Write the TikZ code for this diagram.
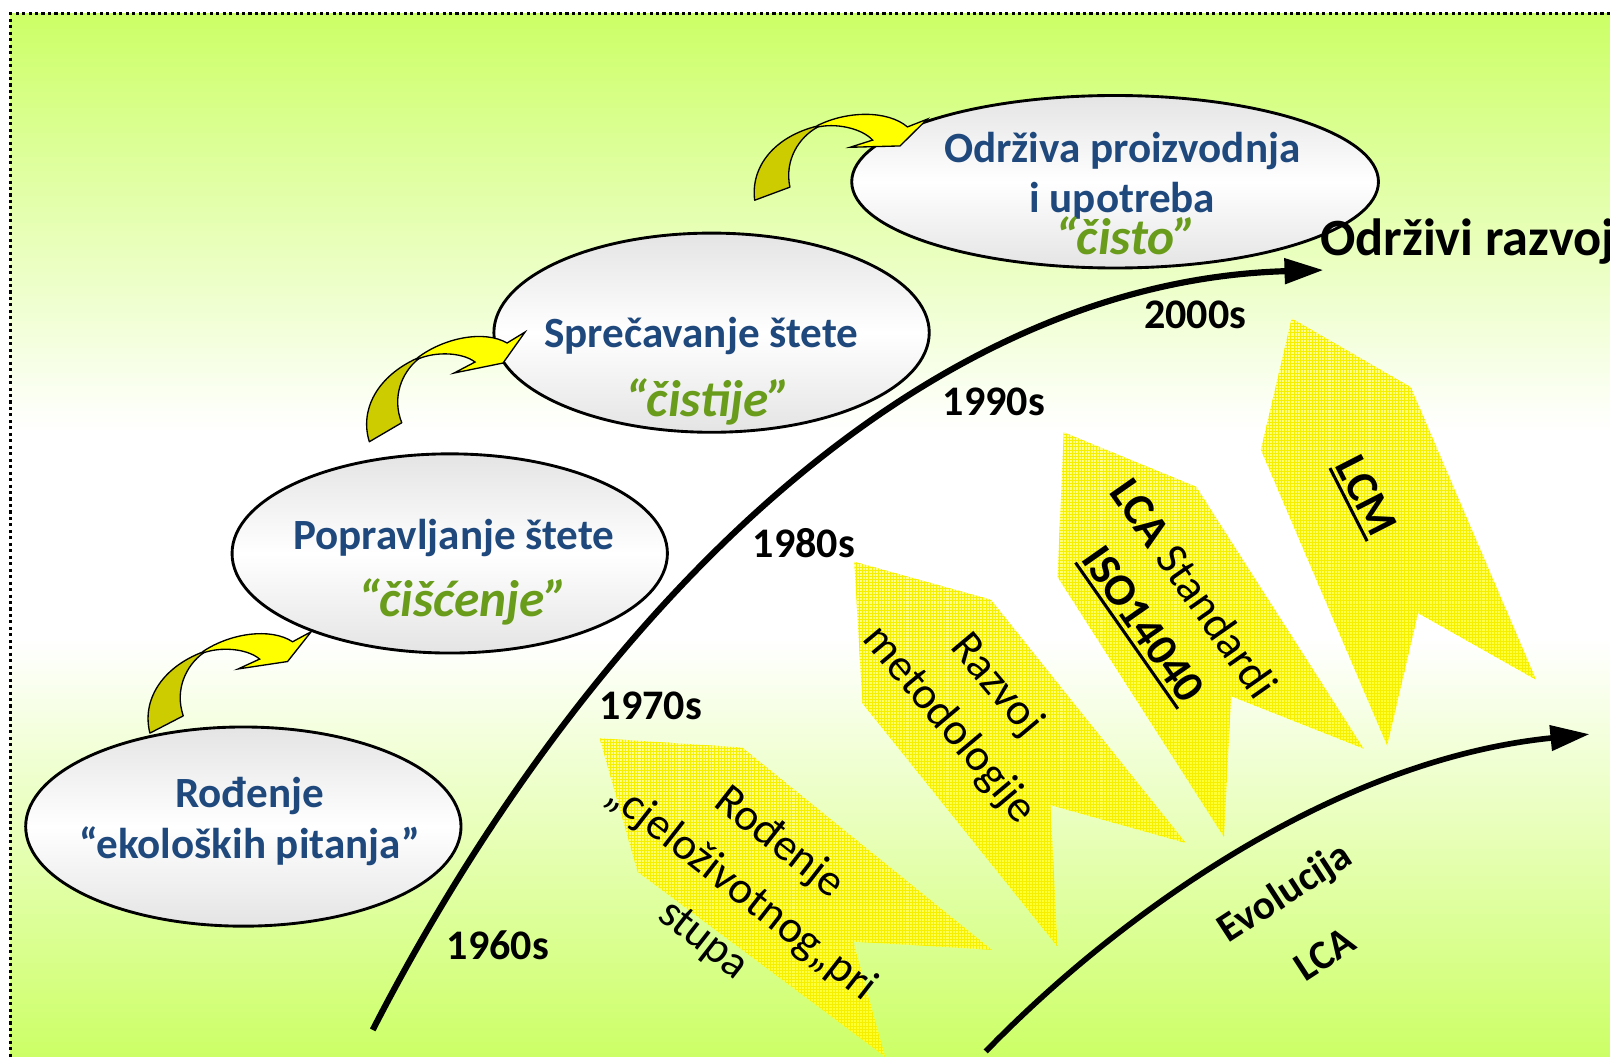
\documentclass[tikz,border=0pt]{standalone}
\usepackage{fontspec}
\setmainfont{Carlito}
\usetikzlibrary{arrows.meta,shapes.geometric,patterns}
\definecolor{bggreen}{HTML}{CCFF66}
\definecolor{txtblue}{HTML}{1F497D}
\definecolor{txtgreen}{HTML}{6A9C1C}
\definecolor{arrolive}{HTML}{CCCC00}
\definecolor{arryellow}{HTML}{FFFF00}
\definecolor{ellgray}{HTML}{E4E4E4}
\definecolor{yshlight}{HTML}{FFFF90}
\definecolor{yshdark}{HTML}{FFFF26}
\definecolor{ygrid}{HTML}{F6F000}
\pgfdeclareverticalshading{bgshade}{100bp}{color(0bp)=(bggreen); color(25bp)=(bggreen); color(45bp)=(white); color(55bp)=(white); color(75bp)=(bggreen); color(100bp)=(bggreen)}
\newsavebox{\ulsave}
\newcommand{\ulbox}[1]{\sbox{\ulsave}{#1}\rlap{\rule[-7pt]{\wd\ulsave}{3pt}}\usebox{\ulsave}}
\newcommand{\yarrow}[3]{%
\begin{scope}[shift={(#1,#2)}, rotate=#3, scale=0.974]
 \filldraw[fill=arrolive, draw=black, line width=1.3pt, line join=round]
   (0,0) .. controls (-10,-32) and (8,-66) .. (49,-84) -- (49,-82.7)
   .. controls (33,-70) and (22,-45) .. (32.4,-19) -- cycle;
 \filldraw[fill=arryellow, draw=black, line width=1.3pt, line join=miter]
   (48.7,-84.3) .. controls (75,-104) and (115,-112) .. (137.7,-98.7)
   -- (155.7,-109.7) -- (133.7,-78.7) -- (84.7,-68.7) -- (105.7,-79.7)
   .. controls (92,-90) and (65,-90) .. (48.7,-82.7) -- cycle;
\end{scope}}
\begin{document}
\begin{tikzpicture}[x=1pt,y=-1pt,
  ell/.style={ellipse, draw=black, line width=2.8pt, top color=ellgray, bottom color=ellgray, middle color=white, inner sep=0},
  bl/.style={font=\fontsize{42}{48}\selectfont\bfseries, text=txtblue, inner sep=0, text height=26pt, text depth=0pt},
  gr/.style={font=\fontsize{50}{56}\selectfont\bfseries\itshape, text=txtgreen, inner sep=0, text height=31pt, text depth=0pt},
  yr/.style={font=\fontsize{41}{48}\selectfont\bfseries, text=black, inner sep=0, text height=25pt, text depth=0pt},
  ytxt/.style={font=\fontsize{44}{60}\selectfont, text=black, align=center, inner sep=0},
  ysh/.style={top color=yshlight, bottom color=yshdark, postaction={pattern=grid, pattern color=ygrid}},
  curve/.style={draw=black, line cap=butt, -{Triangle[length=38pt,width=24pt]}}
]
\useasboundingbox (0,0) rectangle (1568,1029);
\clip (0,0) rectangle (1568,1029);
% background
\shade[shading=bgshade] (10,13.5) rectangle (1568,1029);

% yellow block arrows
\shade[ysh] (584,719) -- (723,728) -- (966,925) -- (831,917) -- (862,1029) -- (621,849) -- cycle;
\shade[ysh] (832,547) -- (965,584) -- (1155,821) -- (1023,784) -- (1030,922) -- (840,685) -- cycle;
\shade[ysh] (1036,421) -- (1165,474) -- (1328,729) -- (1199,678) -- (1192,815) -- (1030,562) -- cycle;
\shade[ysh] (1258,310) -- (1374,377) -- (1496,662) -- (1381,597) -- (1351,726) -- (1228,438) -- cycle;

% frame
\draw[dash pattern=on 3pt off 3.3pt, line width=3pt] (1568,13.5) -- (10.4,13.5) -- (10.4,1029);

% curves
\coordinate (m0) at (363,1003);
\coordinate (m1) at (1289,263);
\draw[curve, line width=6pt] (m0) .. controls (560,620) and (880,275) .. (m1);
\coordinate (l0) at (960,1024);
\coordinate (l1) at (1548,715);
\draw[curve, line width=5.5pt] (l0) .. controls (1090,890) and (1300,740) .. (l1);

% ellipses
\node[ell, minimum width=424pt, minimum height=194pt] (e1) at (237,805) {};
\node[ell, minimum width=424pt, minimum height=194pt] (e2) at (438,539) {};
\node[ell, minimum width=424pt, minimum height=194pt] (e3) at (693,324) {};
\node[ell, minimum width=513pt, minimum height=168pt] (e4) at (1086,177) {};

% curved arrows
\yarrow{146}{714}{-3}
\yarrow{359.7}{430.2}{0}
\yarrow{735}{195}{-10}

% ellipse texts
\node[bl] (t1a) at (243,773) {Rođenje};
\node[bl] (t1b) at (243,823) {“ekoloških pitanja”};
\node[bl] (t2a) at (442,522) {Popravljanje štete};
\node[gr] (t2b) at (451,585) {“čišćenje”};
\node[bl] (t3a) at (683,325) {Sprečavanje štete};
\node[gr] (t3b) at (690,390) {“čistije”};
\node[bl] (t4a) at (1093,145) {Održiva proizvodnja};
\node[bl] (t4b) at (1093,194) {i upotreba};
\node[gr] (t4c) at (1097,232) {“čisto”};

\node[font=\fontsize{51}{56}\selectfont\bfseries, inner sep=0, anchor=base west] (od) at (1285.5,249) {Održivi razvoj};

% years
\node[yr] (y60) at (485,922) {1960s};
\node[yr] (y70) at (634,688) {1970s};
\node[yr] (y80) at (783,530) {1980s};
\node[yr] (y90) at (968,392) {1990s};
\node[yr] (y00) at (1164,307) {2000s};

% yellow block texts
\node[ytxt, rotate=-38] (b1) at (722,868) {Rođenje\\„cjeloživotnog„pri\\stupa};
\node[ytxt, rotate=-50] (b2) at (947,687) {Razvoj\\metodologije};
\node[ytxt, rotate=-55] (b3) at (1136,592) {\textbf{LCA} Standardi\\\textbf{\ulbox{ISO14040}}};
\node[ytxt, rotate=-63, font=\fontsize{44}{60}\selectfont\bfseries] (b4) at (1328,484) {\ulbox{LCM}};
\node[ytxt, rotate=33, font=\fontsize{40}{72}\selectfont\bfseries] (ev) at (1270,898) {Evolucija\\LCA};
\end{tikzpicture}
\end{document}
